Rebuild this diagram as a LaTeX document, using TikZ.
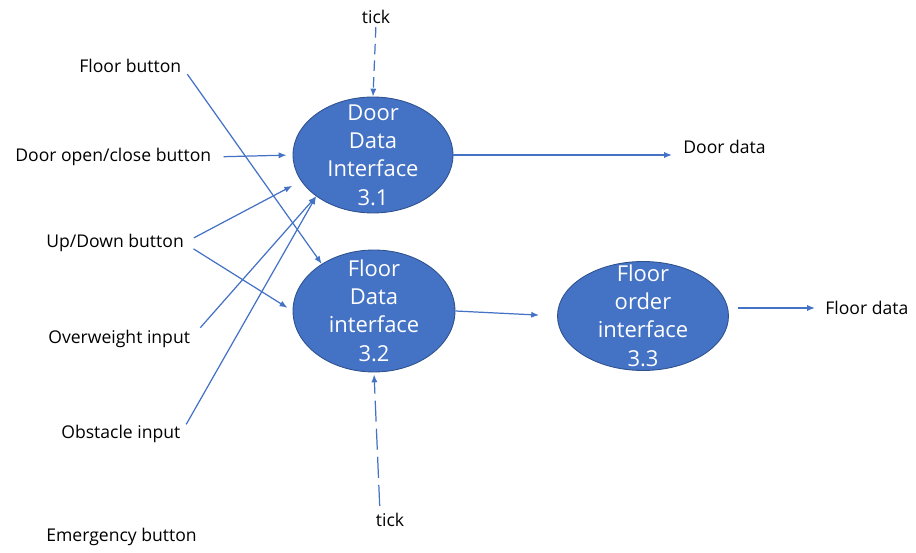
\documentclass[tikz,border=0pt]{standalone}
\usepackage{fontspec}
\setmainfont{Open Sans}
\usetikzlibrary{arrows.meta, shapes.geometric}
\definecolor{bubfill}{HTML}{4472C4}
\definecolor{bubline}{HTML}{2F528F}
\newcommand{\bubtext}[1]{\smash{\raisebox{-4.3pt}{\begin{tabular}{@{}c@{}}#1\end{tabular}}}}

\begin{document}
\begin{tikzpicture}[x=0.02cm, y=-0.02cm,
		bub/.style={draw=bubline, line width=0.5pt, fill=bubfill, ellipse, inner sep=0pt,
			text=white, font=\fontsize{12.5}{16}\selectfont},
		lbl/.style={inner sep=0pt, font=\fontsize{10}{12}\selectfont},
		flow/.style={-{Latex[length=4.5pt, width=3.5pt]}, draw=bubfill, line width=0.7pt}]
					\useasboundingbox (0,0) rectangle (916,553);

					\node (D) at (373,155) [bub, minimum width=3.2cm,  minimum height=2.32cm] {\bubtext{Door\\Data\\Interface\\3.1}};
					\node (F) at (374,311) [bub, minimum width=3.24cm, minimum height=2.44cm] {\bubtext{Floor\\Data\\interface\\3.2}};
					\node (O) at (643,316) [bub, minimum width=3.42cm, minimum height=2.18cm] {\bubtext{Floor\\order\\interface\\3.3}};

					\node (fb)  at (79,66)   [lbl, anchor=west] {Floor button};
					\node (doc) at (15,157)  [lbl, anchor=west] {Door open/close button};
					\node (ud)  at (46,243)  [lbl, anchor=west] {Up/Down button};
					\node (ow)  at (48,339)  [lbl, anchor=west] {Overweight input};
					\node (obs) at (61,434)  [lbl, anchor=west] {Obstacle input};
					\node (em)  at (46,537)  [lbl, anchor=west] {Emergency button};
					\node (dd)  at (683,147) [lbl, anchor=west] {Door data};
					\node (fd)  at (825,308) [lbl, anchor=west] {Floor data};
					\node (t1)  at (376,17)  [lbl] {tick};
					\node (t2)  at (390,520) [lbl] {tick};

					% Draw the flows between the nodes
					\draw[flow, shorten <=0.2cm]  (fb.east) -- (F.138);
					\draw[flow, shorten <=0.24cm, shorten >=0.12cm] (doc.east) -- (D.west);
					\draw[flow, shorten <=0.22cm, shorten >=0.2cm]  (ud.east) -- (D.200);
					\draw[flow, shorten <=0.22cm, shorten >=0.12cm] (ud.east) -- (F.west);
					\draw[flow, shorten <=0.3cm]  (ow.east) -- (D.216);
					\draw[flow, shorten <=0.22cm] (obs.east) -- (D.216);
					\draw[flow, shorten >=0.22cm] (D.east) -- (D.east -| dd.west);
					\draw[flow, shorten >=0.36cm] (F.east) -- (O.west);
					\draw[flow, shorten <=0.18cm, shorten >=0.2cm] (O.east |- fd.west) -- (fd.west);
					\draw[flow, dash pattern=on 6pt off 3.5pt, shorten <=0.06cm] (t1.south) -- (D.north);
					\draw[flow, dash pattern=on 12pt off 4pt, shorten <=0.14cm, shorten >=0.04cm] ([xshift=-0.2cm]t2.north) -- (F.south);
				\end{tikzpicture}
\end{document}
